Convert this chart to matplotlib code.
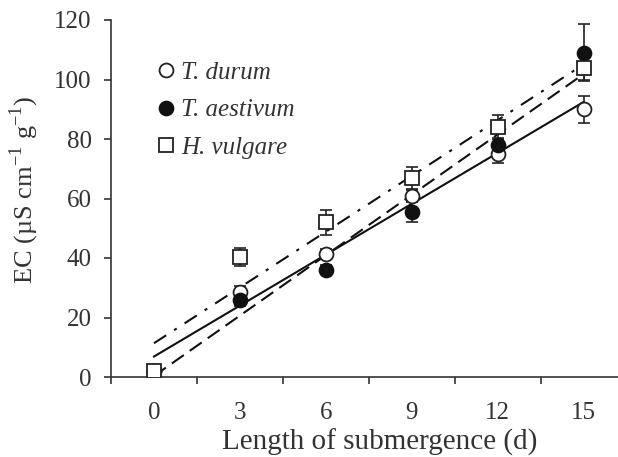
import numpy as np
import matplotlib
matplotlib.use("Agg")
import matplotlib.pyplot as plt
from matplotlib.lines import Line2D

plt.rcParams['font.family'] = ['Liberation Serif', 'DejaVu Serif']
plt.rcParams['mathtext.fontset'] = 'custom'
plt.rcParams['mathtext.rm'] = 'Liberation Serif'

days = [0, 3, 6, 9, 12, 15]
durum = [2, 28.5, 41.5, 61, 75, 90]
durum_err = [0.5, 2, 1.5, 2, 3, 4.5]
aestivum = [2, 26, 36, 55.5, 78, 109]
aestivum_err = [0.5, 2, 1.5, 3.4, 2.5, 9.5]
vulgare = [2, 40.3, 52, 67, 84, 104]
vulgare_err = [0.5, 3, 4.3, 3.7, 4, 4]
labels = ['T. durum', 'T. aestivum', 'H. vulgare']
yticks = [0, 20, 40, 60, 80, 100, 120]

TXT = '#333333'
fig = plt.figure(figsize=(6.18, 4.57), dpi=100)
ax = fig.add_axes([111/618, 80/457, 507/618, 357/457])

x = np.array(days, dtype=float)
series = [
    (durum, durum_err, dict(marker='o', mfc='white', mec='#222222'), '-'),
    (aestivum, aestivum_err, dict(marker='o', mfc='#111111', mec='#111111'), (0, (7, 3.5))),
    (vulgare, vulgare_err, dict(marker='s', mfc='white', mec='#222222'), (0, (7, 4.5, 1.5, 4.5))),
]
xl = np.array([0, 15])
for y, e, mk, ls in series:
    y = np.array(y)
    k, b = np.polyfit(x, y, 1)
    ax.plot(xl, k * xl + b, color='#111111', lw=1.5, ls=ls, zorder=2)
for y, e, mk, ls in series:
    ax.errorbar(x, y, yerr=e, fmt='none', ecolor='#222222', elinewidth=1.2,
                capsize=4.5, capthick=1.2, zorder=3)
    ax.plot(x, y, ls='none', ms=10, mew=1.3, zorder=4, **mk)

handles = [Line2D([], [], ls='none', ms=10, mew=1.3, **s[2]) for s in series]
leg = ax.legend(handles, labels, loc='upper left', bbox_to_anchor=(0.065, 0.912),
                frameon=False, prop={'style': 'italic', 'size': 18},
                handletextpad=0.1, handlelength=1.0, labelspacing=0.6,
                borderaxespad=0)
for t in leg.get_texts():
    t.set_color(TXT)

ax.set_xlim(-1.5, 16.2)
ax.set_ylim(0, 120)
ax.set_yticks(yticks)
ax.set_xticks(days)
ax.set_xticks(np.arange(-1.5, 16.5, 3), minor=True)
ax.tick_params(axis='x', which='major', length=0, pad=18, labelsize=18, labelcolor=TXT)
ax.tick_params(axis='x', which='minor', length=5, width=1.2, direction='out', color='#333333')
ax.tick_params(axis='y', length=5, width=1.2, direction='out', labelsize=18, color='#333333',
               pad=9, labelcolor=TXT)
for s in ['top', 'right']:
    ax.spines[s].set_visible(False)
for s in ['left', 'bottom']:
    ax.spines[s].set_linewidth(1.2)
    ax.spines[s].set_color('#333333')

ax.set_xlabel('Length of submergence (d)', fontsize=21, color=TXT)
ax.xaxis.set_label_coords(0.53, -0.145)
ax.set_ylabel(r'EC (µS cm$^{\mathregular{-1}}$ g$^{\mathregular{-1}}$)', fontsize=19, color=TXT)
ax.yaxis.set_label_coords(-0.138, 0.525)

fig.savefig('out.png', dpi=100)
